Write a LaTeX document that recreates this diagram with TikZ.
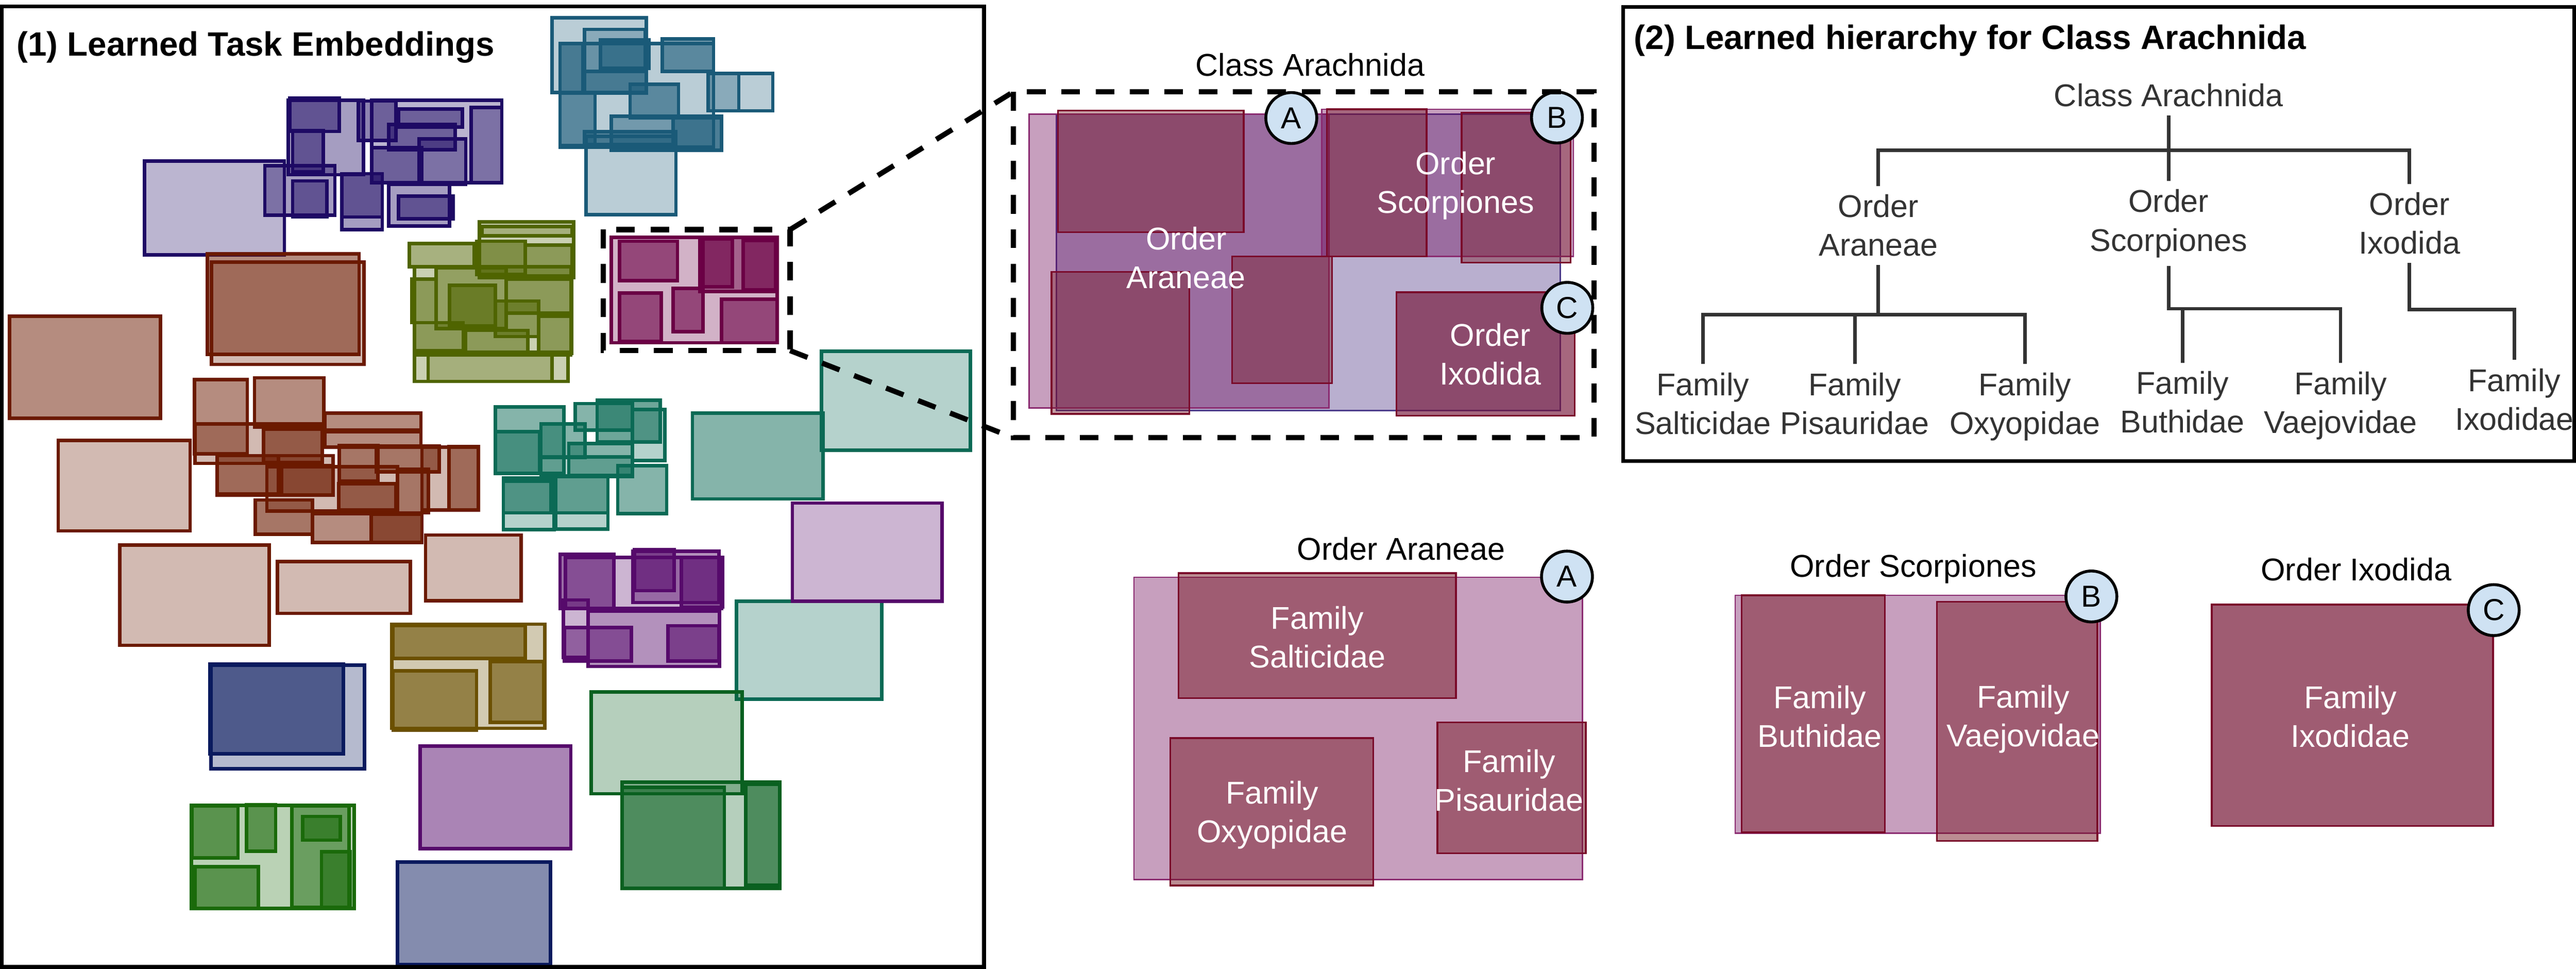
\documentclass[tikz,border=0pt]{standalone}
\usepackage{fontspec}
\setmainfont{Liberation Sans}
\usepackage{xcolor}
\usepackage{tikz}
\definecolor{steel}{HTML}{1A5A78}
\definecolor{indigo}{HTML}{1E0A64}
\definecolor{moss}{HTML}{4F6400}
\definecolor{berry}{HTML}{6B0045}
\definecolor{rust}{HTML}{6B1A00}
\definecolor{seagreen}{HTML}{0B6A55}
\definecolor{grape}{HTML}{560A6B}
\definecolor{navy}{HTML}{0A1A5E}
\definecolor{ochre}{HTML}{6B5000}
\definecolor{leaf}{HTML}{1A6A0A}
\definecolor{forest}{HTML}{0A6020}
\definecolor{ink}{HTML}{333333}
\definecolor{badgeblue}{HTML}{CFE2F3}
\definecolor{lavender}{HTML}{B9AFCF}
\definecolor{classedge}{HTML}{4A3A8A}
\definecolor{plum}{HTML}{6C0255}
\definecolor{orderedge}{HTML}{8A2A70}
\definecolor{brick}{HTML}{781A25}
\definecolor{famedge}{HTML}{7A0A2A}
\tikzset{
  frame/.style={draw=black, line width=1.3pt},
  emb/.style={draw=#1, fill=#1, line width=1.2pt},
  zoombox/.style={draw=black, line width=1.8pt, dash pattern=on 6.5pt off 5.4pt},
  classbox/.style={draw=classedge, fill=lavender, line width=0.5pt},
  orderbox/.style={draw=orderedge, fill=plum, fill opacity=0.38, line width=0.5pt},
  familybox/.style={draw=famedge, fill=brick, fill opacity=0.5, line width=0.6pt},
  badge/.style={circle, draw=black, fill=badgeblue, line width=1pt, minimum size=0.62cm, inner sep=0pt, font=\fontsize{10.5}{12}\selectfont},
  ttl/.style={font=\bfseries\fontsize{11.7}{14}\selectfont, inner sep=0pt},
  lbl/.style={font=\fontsize{10.9}{13.4}\selectfont, align=center},
  wlbl/.style={lbl, text=white},
  tlbl/.style={lbl, text=ink, inner sep=2.8pt},
  tline/.style={draw=ink, line width=1.2pt}
}
\begin{document}
\begin{tikzpicture}[x=0.02cm, y=-0.02cm]
  \useasboundingbox (0,0) rectangle (1568,589.3);

  \foreach \xa/\ya/\xb/\yb/\op in {336/10.8/393.4/56.2/.3, 340.9/26.4/434.3/89.6/.3, 355.7/17.9/392.7/43.4/.3,
      365.5/24.2/395/41.5/.6, 403.2/23.6/434.3/43.4/.6, 431/44.7/470.4/67.4/.3, 431/44.7/449.7/67.4/.3,
      340.9/26.4/354.7/56.6/.6, 340.9/56.6/362.2/88.7/.6, 355.7/43.4/393.4/56.6/.6, 383.5/51.3/413/71.7/.6,
      372/70.8/439.3/91.5/.45, 409.8/71.7/439.3/91.5/.6, 355.7/80.2/411.4/87.8/.6, 356.7/83/411.4/130.6/.3}
    \draw[emb=steel, fill opacity=\op] (\xa,\ya) rectangle (\xb,\yb);

  \foreach \xa/\ya/\xb/\yb/\op in {87.9/98.1/173.1/155.1/.3, 226.2/60.9/305.4/111.2/.3, 175.4/60.9/221.3/106.3/.4,
      176.5/59.8/206.5/80/.5, 178.1/79.5/196.7/104.6/.5, 218/61.5/240.9/85.5/.5, 286.8/65.3/305.4/111.2/.4,
      242.6/66.4/281.4/77.3/.5, 236.6/75.7/277/91/.5, 226.2/89.9/256.8/111.2/.5, 255.1/84.4/283.5/112.3/.4,
      161.2/100.8/203.8/130.9/.4, 178.1/110.1/198.9/132/.5, 208.1/105.7/232.7/139.6/.4,
      208.1/105.7/232.7/132/.5, 236.6/112.3/273.7/137.4/.4, 242.6/119.4/275.9/133.1/.5}
    \draw[emb=indigo, fill opacity=\op] (\xa,\ya) rectangle (\xb,\yb);

  \foreach \xa/\ya/\xb/\yb/\op in {291.7/134.9/349.1/168.9/.3, 293.4/137.8/348.1/143.4/.3, 249.1/148.1/288.5/162.3/.5,
      290.1/146.8/319.6/167/.6, 319.6/149.1/348.1/168/.5, 252.4/162.3/347.5/216.1/.3, 265.5/163/308/200/.45,
      250.8/169.9/265.5/196.3/.5, 273.7/173.6/301.6/198.2/.6, 308.1/169.9/348.1/190.6/.5,
      301.6/183.1/327.8/204.8/.5, 252.4/196.3/281.9/213.3/.5, 283.5/201/321.2/214.2/.5,
      327.8/192.5/348.1/215.1/.5, 252.4/214.2/345.8/232.1/.3, 260.6/216.1/336/232.1/.3}
    \draw[emb=moss, fill opacity=\op] (\xa,\ya) rectangle (\xb,\yb);

  \foreach \xa/\ya/\xb/\yb/\op in {372/144.4/473/208.5/.3, 377/146.8/412.4/170.8/.6, 426.1/144.4/473/177.4/.45,
      427.8/145.3/445.8/174.6/.6, 452.4/146.3/472/176.5/.6, 377/178.3/402.5/207.6/.6,
      409.8/175.5/427.8/201.9/.6, 439.3/182.1/473/208.5/.6}
    \draw[emb=berry, fill opacity=\op] (\xa,\ya) rectangle (\xb,\yb);

  \foreach \xa/\ya/\xb/\yb/\op in {126.2/154.4/218.6/215.7/.5, 128.8/159.5/221.6/221.7/.3, 5.9/192.5/97.7/254.4/.5,
      35.4/268/115.7/323/.3, 118.3/231/150.5/276.1/.5, 154.9/229.9/197.2/260/.5, 118.7/258/196.2/281.9/.3,
      197.8/251.4/256.2/262.6/.5, 197.8/261.5/256.2/272/.5, 160.4/261.1/196.2/281.3/.6,
      132.2/277.2/202.7/301.1/.3, 132.2/277.2/169.4/300.5/.5, 171.3/283.2/202.7/301.1/.6,
      162.4/284/242/311/.3, 256.8/272/291.1/310.4/.3, 273.3/271.8/291.1/310.4/.5,
      206.5/271/230/292.8/.6, 229/271.5/267.3/287/.6, 206.1/294.3/240.9/310.4/.6,
      241.9/285.5/260.7/312/.6, 155.4/304.2/190.2/325/.6, 190.2/312.5/256.8/330.1/.5,
      226/313/256.8/330.1/.6, 72.8/331.6/163.9/392.6/.3, 168.8/341.6/249.8/373.2/.3, 259/325.5/317.3/365.6/.3}
    \draw[emb=rust, fill opacity=\op] (\xa,\ya) rectangle (\xb,\yb);

  \foreach \xa/\ya/\xb/\yb/\op in {301.5/247.6/343.2/288.1/.5, 350.2/245.5/384.9/261.6/.5, 363.5/243.4/401.8/268.9/.6,
      384.9/249.1/404.8/280.3/.3, 329.3/258/356.1/278.2/.5, 301.5/262.6/328.3/288.1/.5,
      346.2/269.9/384.9/289.1/.5, 376/283.4/405.8/312.5/.5, 306.4/290.7/337.2/322.3/.3,
      306.4/292.8/335.2/312/.6, 338.2/289.6/370/321.8/.3, 338.2/289.6/370/312/.5, 329.3/278/384.9/290/.3,
      421.5/251.3/501/303.6/.5, 500.1/213.6/590.7/274/.3, 448.3/365.8/536.7/425.3/.3}
    \draw[emb=seagreen, fill opacity=\op] (\xa,\ya) rectangle (\xb,\yb);

  \foreach \xa/\ya/\xb/\yb/\op in {344.2/339.1/439.3/370.3/.3, 340.9/337.2/373.7/370.3/.6, 386.2/334.4/410.4/359.4/.6,
      385.2/335.4/437.6/366.6/.45, 414.7/339.1/439.9/369.4/.6, 343/365/358/400/.3,
      358/371.8/437.9/405.5/.45, 343.5/381.7/384.2/402.1/.5, 406.5/380.7/437.6/402.1/.6,
      255.7/453.9/347.5/516.3/.5, 482.3/306.1/573.4/365.8/.3}
    \draw[emb=grape, fill opacity=\op] (\xa,\ya) rectangle (\xb,\yb);

  \foreach \xa/\ya/\xb/\yb/\op in {128.5/404.8/221.9/467.7/.3, 127.8/404/209.1/458.7/.6, 241.9/524.5/335/586.9/.5}
    \draw[emb=navy, fill opacity=\op] (\xa,\ya) rectangle (\xb,\yb);

  \foreach \xa/\ya/\xb/\yb/\op in {238.6/379.8/331.7/443.1/.3, 239.3/380.7/319.6/400.6/.6,
      239.3/408.2/290.1/444.1/.6, 298.3/402.5/331.1/439.4/.6}
    \draw[emb=ochre, fill opacity=\op] (\xa,\ya) rectangle (\xb,\yb);

  \foreach \xa/\ya/\xb/\yb/\op in {116.4/489.9/215.7/552.8/.3, 117/490.4/144.9/522/.6, 150.1/489.5/167.8/517.8/.6,
      177.7/490.4/212.4/551.9/.5, 184.2/496.7/207.2/511.2/.6, 118.7/527.3/157.3/552.8/.6,
      195.7/518.2/213.1/551.9/.6}
    \draw[emb=leaf, fill opacity=\op] (\xa,\ya) rectangle (\xb,\yb);

  \foreach \xa/\ya/\xb/\yb/\op in {359.9/421/451.7/482.9/.3, 378.6/475.9/474.7/540.5/.3,
      378.6/479/440.9/540.5/.6, 454/477.2/474.7/538.6/.6}
    \draw[emb=forest, fill opacity=\op] (\xa,\ya) rectangle (\xb,\yb);

  \draw[frame] (1,4) rectangle (599,588.3);
  \node[ttl, anchor=base west] (embtitle) at (9.8,34) {(1) Learned Task Embeddings};

  \draw[classbox] (643.1,69.4) rectangle (949.7,249.8);
  \draw[orderbox] (626.3,69.4) rectangle (809,248.2);
  \draw[orderbox] (804.6,66.5) rectangle (957.7,156);
  \draw[orderbox] (850.1,177.8) rectangle (958.5,252.9);
  \draw[familybox, fill opacity=0.42] (643.9,67.3) rectangle (757,141.2);
  \draw[familybox, fill opacity=0.42] (640.1,165.5) rectangle (724,251.8);
  \draw[familybox, fill opacity=0.42] (750,156) rectangle (810.8,233.1);
  \draw[familybox, fill opacity=0.42] (807.6,66.5) rectangle (868.4,156);
  \draw[familybox, fill opacity=0.42] (889.7,68.6) rectangle (956,159.7);
  \draw[familybox, fill opacity=0.42] (850.1,177.8) rectangle (958.5,252.9);

  \node[lbl, anchor=base] (clstitle) at (797.5,46.4) {Class Arachnida};
  \node[wlbl] (araM) at (722,156.8) {Order\\Araneae};
  \node[wlbl] (scoM) at (886,113) {Order\\Scorpiones};
  \node[wlbl] (ixoM) at (907.2,215.6) {Order\\Ixodida};
  \node[badge] (bA) at (786,71.8) {A};
  \node[badge] (bB) at (947.7,71.5) {B};
  \node[badge] (bC) at (954,187.3) {C};

  \coordinate (zne) at (480.9,139.7);
  \coordinate (zse) at (480.9,213.3);
  \coordinate (bnw) at (616.8,55.9);
  \coordinate (bsw) at (616.8,266.3);
  \draw[zoombox] (367.1,139.7) rectangle (zse);
  \draw[zoombox] (bnw) rectangle (970.3,266.3);
  \draw[zoombox] (zne) -- (bnw);
  \draw[zoombox] (zse) -- (bsw);

  \draw[orderbox] (690.2,351.2) rectangle (963.1,535.2);
  \draw[familybox] (717.4,348.7) rectangle (886.2,424.7);
  \draw[familybox] (712.4,449.1) rectangle (835.8,538.8);
  \draw[familybox] (874.9,439.6) rectangle (965.3,519.1);
  \node[lbl, anchor=base] (aratitle) at (852.9,340.8) {Order Araneae};
  \node[wlbl] (sal) at (801.8,387.7) {Family\\Salticidae};
  \node[wlbl] (oxy) at (774.4,496) {Family\\Oxyopidae};
  \node[wlbl] (pis) at (918.6,474.9) {Family\\Pisauridae};
  \node[badge] (bA2) at (953.8,350.8) {A};

  \draw[orderbox] (1056.2,362.2) rectangle (1278.3,506.8);
  \draw[familybox] (1060.2,362.2) rectangle (1147.2,506.5);
  \draw[familybox] (1179,366.1) rectangle (1276.7,511.7);
  \node[lbl, anchor=base] (scotitle) at (1164.6,351.1) {Order Scorpiones};
  \node[wlbl] (but) at (1107.7,435.9) {Family\\Buthidae};
  \node[wlbl] (vae) at (1231.5,437.5) {Family\\Vaejovidae};
  \node[badge] (bB2) at (1273,362.9) {B};

  \draw[orderbox] (1346.3,367.8) rectangle (1517.5,502.6);
  \draw[familybox] (1346.3,367.8) rectangle (1517.5,502.6);
  \node[lbl, anchor=base] (ixotitle) at (1434.2,353.2) {Order Ixodida};
  \node[wlbl] (ixd) at (1430.6,435.9) {Family\\Ixodidae};
  \node[badge] (bC2) at (1517.9,371.2) {C};

  \draw[frame] (988,4.2) rectangle (1566.8,280.6);
  \node[ttl, anchor=base west] (treetitle) at (994.3,29.8) {(2) Learned hierarchy for Class Arachnida};

  \node[tlbl] (tcls) at (1320,58) {Class Arachnida};
  \node[tlbl] (tara) at (1143.3,137.2) {Order\\Araneae};
  \node[tlbl] (tsco) at (1320,136) {Order\\Scorpiones};
  \node[tlbl] (tixo) at (1466.6,135.9) {Order\\Ixodida};
  \node[tlbl] (tsal) at (1036.6,245.5) {Family\\Salticidae};
  \node[tlbl] (tpis) at (1129,245.5) {Family\\Pisauridae};
  \node[tlbl] (toxy) at (1232.5,247.5) {Family\\Oxyopidae};
  \node[tlbl] (tbut) at (1328.5,244.8) {Family\\Buthidae};
  \node[tlbl] (tvae) at (1424.7,246.8) {Family\\Vaejovidae};
  \node[tlbl] (tixd) at (1530.5,243) {Family\\Ixodidae};

  \coordinate (jc) at (1320,91.5);
  \coordinate (ja) at (1143.3,191.5);
  \coordinate (js) at (1320,187.8);
  \coordinate (ji) at (1466.6,188.3);
  \draw[tline] (tcls) -- (jc) -- (tsco);
  \draw[tline] (tara) |- (jc) -| (tixo);
  \draw[tline] (tara) -- (ja);
  \draw[tline] (tsal) |- (ja) -| (toxy);
  \draw[tline] (tpis) -- (tpis |- ja);
  \draw[tline] (tsco) -- (js) -| (tvae);
  \draw[tline] (tbut) -- (tbut |- js);
  \draw[tline] (tixo) -- (ji) -| (tixd);
\end{tikzpicture}
\end{document}
